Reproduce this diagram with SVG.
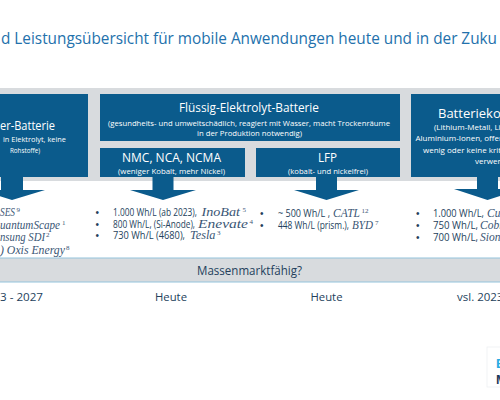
<svg xmlns="http://www.w3.org/2000/svg" width="500" height="400" viewBox="0 0 500 400">
<style>
.box{fill:#0b5b8c}
.bt{font-family:"Open Sans","Liberation Sans",sans-serif;fill:#ffffff;text-anchor:middle}
.bts{font-family:"Open Sans","Liberation Sans",sans-serif;fill:#ffffff}
.tx{font-family:"Open Sans","Liberation Sans",sans-serif;fill:#243f5c;font-size:10px}
.it{font-family:"Liberation Serif","DejaVu Serif",serif;font-style:italic;fill:#3a5675;font-size:11.5px}
.sup{font-family:"Liberation Serif","DejaVu Serif",serif;fill:#3a5675;font-size:7px}
.bul{font-family:"Liberation Sans",sans-serif;fill:#243f5c;font-size:10px}
.arrow{fill:#0b5b8c}
.line{stroke:#93c3dc;stroke-width:1.2}
</style>
<rect x="0" y="0" width="500" height="400" fill="#ffffff"/>
<text x="1" y="44" font-family="'Open Sans','Liberation Sans',sans-serif" font-size="17" fill="#2371ac" textLength="496" lengthAdjust="spacingAndGlyphs">d Leistungsübersicht für mobile Anwendungen heute und in der Zuku</text>

<rect x="0" y="88" width="500" height="93" fill="#d8dbde"/>

<g id="festkoerper">
<rect class="box" x="-5" y="94" width="93" height="83"/>
<text class="bts" x="0" y="129.5" font-size="13" textLength="55" lengthAdjust="spacingAndGlyphs">er-Batterie</text>
<text class="bts" x="3" y="142" font-size="8" textLength="63" lengthAdjust="spacingAndGlyphs">in Elektrolyt, keine</text>
<text class="bts" x="10" y="153" font-size="8" textLength="30" lengthAdjust="spacingAndGlyphs">Rohstoffe)</text>
</g>

<g id="fluessig">
<rect class="box" x="100" y="94" width="300" height="47"/>
<text class="bt" x="249" y="112" font-size="13" textLength="140" lengthAdjust="spacingAndGlyphs">Flüssig-Elektrolyt-Batterie</text>
<text class="bt" x="249" y="126" font-size="8" textLength="282" lengthAdjust="spacingAndGlyphs">(gesundheits- und umweltschädlich, reagiert mit Wasser, macht Trockenräume</text>
<text class="bt" x="249.5" y="135.5" font-size="8" textLength="105" lengthAdjust="spacingAndGlyphs">in der Produktion  notwendig)</text>
</g>

<g id="nmc">
<rect class="box" x="100" y="148" width="145" height="29"/>
<text class="bt" x="171.5" y="161.5" font-size="12.5" textLength="99" lengthAdjust="spacingAndGlyphs">NMC, NCA, NCMA</text>
<text class="bt" x="171.5" y="173.5" font-size="8" textLength="107" lengthAdjust="spacingAndGlyphs">(weniger Kobalt, mehr Nickel)</text>
</g>

<g id="lfp">
<rect class="box" x="256" y="148" width="144" height="29"/>
<text class="bt" x="327.5" y="161.5" font-size="12.5" textLength="19" lengthAdjust="spacingAndGlyphs">LFP</text>
<text class="bt" x="328" y="173.5" font-size="8" textLength="80" lengthAdjust="spacingAndGlyphs">(kobalt- und nickelfrei)</text>
</g>

<g id="batteriekonzepte">
<rect class="box" x="411" y="94" width="95" height="83"/>
<text class="bts" x="438" y="117.5" font-size="13">Batteriekon</text>
<text class="bts" x="434" y="130" font-size="8">(Lithium-Metall, Li</text>
<text class="bts" x="415.5" y="141" font-size="8">Aluminium-Ionen,  offer</text>
<text class="bts" x="423" y="153" font-size="8">wenig oder keine kriti</text>
<text class="bts" x="475" y="164" font-size="8">verwen</text>
</g>

<g id="connectors">
<path class="arrow" d="M1,177 H23 V190 H45 L12,200 L-21,190 H1 Z"/>
<path class="arrow" d="M152.5,177 H173.5 V190 H196 L163,200 L130,190 H152.5 Z"/>
<path class="arrow" d="M316,177 H337 V190 H359 L326.5,200 L294,190 H316 Z"/>
<path class="arrow" d="M477,177 H498 V189 H521 L487.5,200 L454,189 H477 Z"/>
</g>

<g id="list-festkoerper">
<text class="it" x="0" y="216" textLength="15" lengthAdjust="spacingAndGlyphs">SES</text><text class="sup" x="16.5" y="212">9</text>
<text class="it" x="0" y="229" textLength="60" lengthAdjust="spacingAndGlyphs">uantumScape</text><text class="sup" x="62" y="225">1</text>
<text class="it" x="0" y="241" textLength="45" lengthAdjust="spacingAndGlyphs">nsung SDI</text><text class="sup" x="46" y="237">2</text>
<text class="it" x="0" y="253.5" textLength="65" lengthAdjust="spacingAndGlyphs">) Oxis Energy</text><text class="sup" x="66" y="249.5">8</text>
</g>

<g id="list-nmc">
<text class="bul" x="95.5" y="216">•</text>
<text class="tx" x="113" y="216" textLength="84" lengthAdjust="spacingAndGlyphs">1.000 Wh/L (ab 2023),</text>
<text class="it" x="201.5" y="216" textLength="38.5" lengthAdjust="spacingAndGlyphs">InoBat</text><text class="sup" x="242.5" y="212">5</text>
<text class="bul" x="95.5" y="227.5">•</text>
<text class="tx" x="113" y="227.5" textLength="82" lengthAdjust="spacingAndGlyphs">800 Wh/L, (Si-Anode),</text>
<text class="it" x="198" y="227.5" textLength="50" lengthAdjust="spacingAndGlyphs">Enevate</text><text class="sup" x="249.5" y="223.5">4</text>
<text class="bul" x="95.5" y="239">•</text>
<text class="tx" x="113" y="239" textLength="72" lengthAdjust="spacingAndGlyphs">730 Wh/L (4680),</text>
<text class="it" x="190" y="239" textLength="25.5" lengthAdjust="spacingAndGlyphs">Tesla</text><text class="sup" x="217" y="235">3</text>
</g>

<g id="list-lfp">
<text class="bul" x="260" y="216.5">•</text>
<text class="tx" x="278" y="216.5" textLength="52" lengthAdjust="spacingAndGlyphs">~ 500 Wh/L ,</text>
<text class="it" x="333" y="216.5" textLength="27" lengthAdjust="spacingAndGlyphs">CATL</text><text class="sup" x="361.5" y="212.5" textLength="7" lengthAdjust="spacingAndGlyphs">12</text>
<text class="bul" x="260" y="228.5">•</text>
<text class="tx" x="278" y="228.5" textLength="71" lengthAdjust="spacingAndGlyphs">448 Wh/L (prism.),</text>
<text class="it" x="352" y="228.5" textLength="21" lengthAdjust="spacingAndGlyphs">BYD</text><text class="sup" x="375" y="224.5">7</text>
</g>

<g id="list-konzepte">
<text class="bul" x="416" y="216.5">•</text>
<text class="tx" x="433" y="216.5" textLength="51" lengthAdjust="spacingAndGlyphs">1.000 Wh/L,</text>
<text class="it" x="487" y="216.5">Cu</text>
<text class="bul" x="416" y="228.5">•</text>
<text class="tx" x="433" y="228.5" textLength="45" lengthAdjust="spacingAndGlyphs">750 Wh/L,</text>
<text class="it" x="480" y="228.5">Cobr</text>
<text class="bul" x="416" y="241">•</text>
<text class="tx" x="433" y="241" textLength="45" lengthAdjust="spacingAndGlyphs">700 Wh/L,</text>
<text class="it" x="480" y="241">Sion</text>
</g>

<g id="massenmarkt">
<rect x="0" y="258" width="500" height="24" fill="#d8dbde"/>
<line class="line" x1="0" y1="258" x2="500" y2="258"/>
<line class="line" x1="0" y1="282" x2="500" y2="282"/>
<text x="249.5" y="274.5" font-family="'Open Sans','Liberation Sans',sans-serif" font-size="12" fill="#243f5c" text-anchor="middle" textLength="105" lengthAdjust="spacingAndGlyphs">Massenmarktfähig?</text>
</g>

<g id="zeitpunkte" font-family="'Open Sans','Liberation Sans',sans-serif" font-size="11.5" fill="#243f5c">
<text x="0" y="301" textLength="43" lengthAdjust="spacingAndGlyphs">3 - 2027</text>
<text x="171" y="301" text-anchor="middle" textLength="32" lengthAdjust="spacingAndGlyphs">Heute</text>
<text x="326.5" y="301" text-anchor="middle" textLength="32" lengthAdjust="spacingAndGlyphs">Heute</text>
<text x="457" y="301">vsl. 2023</text>
</g>

<g id="logo" font-family="'Liberation Sans',sans-serif" font-size="13" font-weight="bold">
<rect x="487" y="347" width="20" height="40" fill="#ffffff" stroke="#eef0f2" stroke-width="0.8"/>
<text x="496" y="368" fill="#29abe2">B</text>
<text x="496" y="384" fill="#1d3a5a">M</text>
</g>
</svg>
